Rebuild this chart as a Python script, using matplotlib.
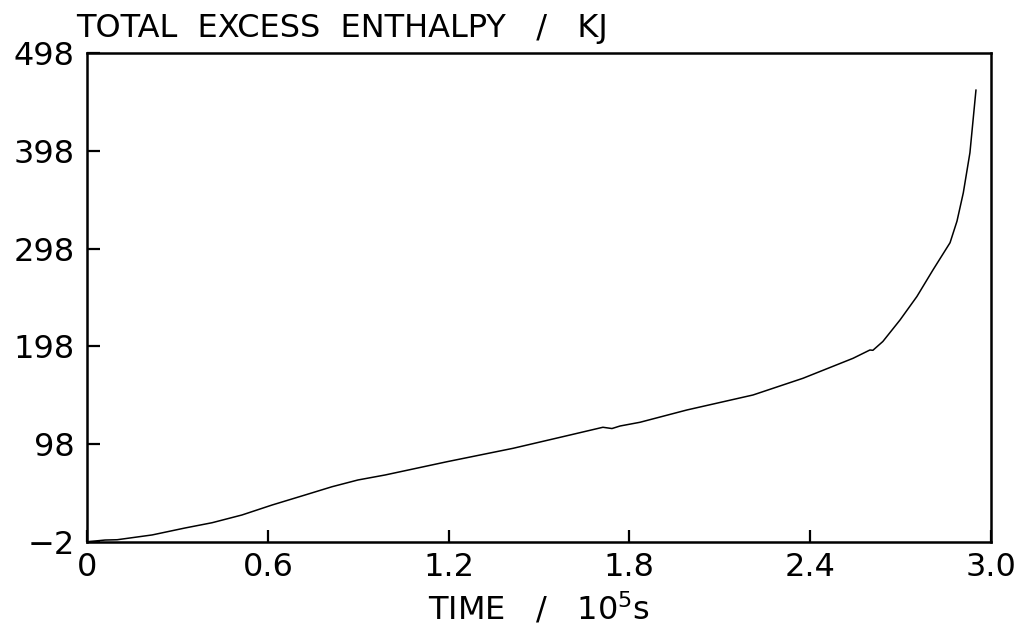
import matplotlib.pyplot as plt
import numpy as np

# Total excess enthalpy vs time
time_1e5s = [0.0, 0.01, 0.06, 0.10, 0.216, 0.325, 0.415, 0.514, 0.614, 0.723,
             0.813, 0.899, 0.989, 1.195, 1.414, 1.603, 1.712, 1.742, 1.769,
             1.835, 1.991, 2.21, 2.376, 2.542, 2.598, 2.608, 2.641, 2.698,
             2.754, 2.807, 2.864, 2.887, 2.908, 2.930, 2.940, 2.950]
enthalpy_kj = [-2.0, -1.5, 0.0, 0.3, 5.2, 12.3, 17.7, 25.6, 35.8, 46.0,
               54.5, 61.4, 66.5, 80.1, 93.8, 107.4, 115.3, 114.0, 116.6,
               120.4, 133.0, 148.3, 165.4, 185.8, 194.3, 194.0, 203.0, 225.0,
               249.0, 276.0, 304.0, 326.0, 355.0, 396.0, 428.0, 460.0]

xticks = [0, 0.6, 1.2, 1.8, 2.4, 3.0]
xtick_labels = ['0', '0.6', '1.2', '1.8', '2.4', '3.0']
yticks = [-2, 98, 198, 298, 398, 498]
ytick_labels = ['\u22122', '98', '198', '298', '398', '498']

plt.rcParams['font.family'] = ['DejaVu Sans']
fig = plt.figure(figsize=(10.18, 6.30), dpi=100)
ax = fig.add_axes([0.0855, 0.1397, 0.888, 0.7762])

ax.plot(time_1e5s, enthalpy_kj, color='black', linewidth=1.1)

ax.set_xlim(0, 3.0)
ax.set_ylim(-2, 498)
ax.set_xticks(xticks)
ax.set_xticklabels(xtick_labels)
ax.set_yticks(yticks)
ax.set_yticklabels(ytick_labels)
ax.tick_params(direction='in', length=9, width=1.6, labelsize=23,
               top=False, right=False)
ax.tick_params(axis='x', pad=7)
ax.tick_params(axis='y', pad=9)
for s in ax.spines.values():
    s.set_linewidth(1.8)

ax.set_xlabel(r'TIME   /   10$^5$s', fontsize=23, labelpad=6)
fig.text(0.075, 0.955, 'TOTAL  EXCESS  ENTHALPY   /   KJ', fontsize=23,
         ha='left', va='center')

fig.savefig('out.png', dpi=100)
